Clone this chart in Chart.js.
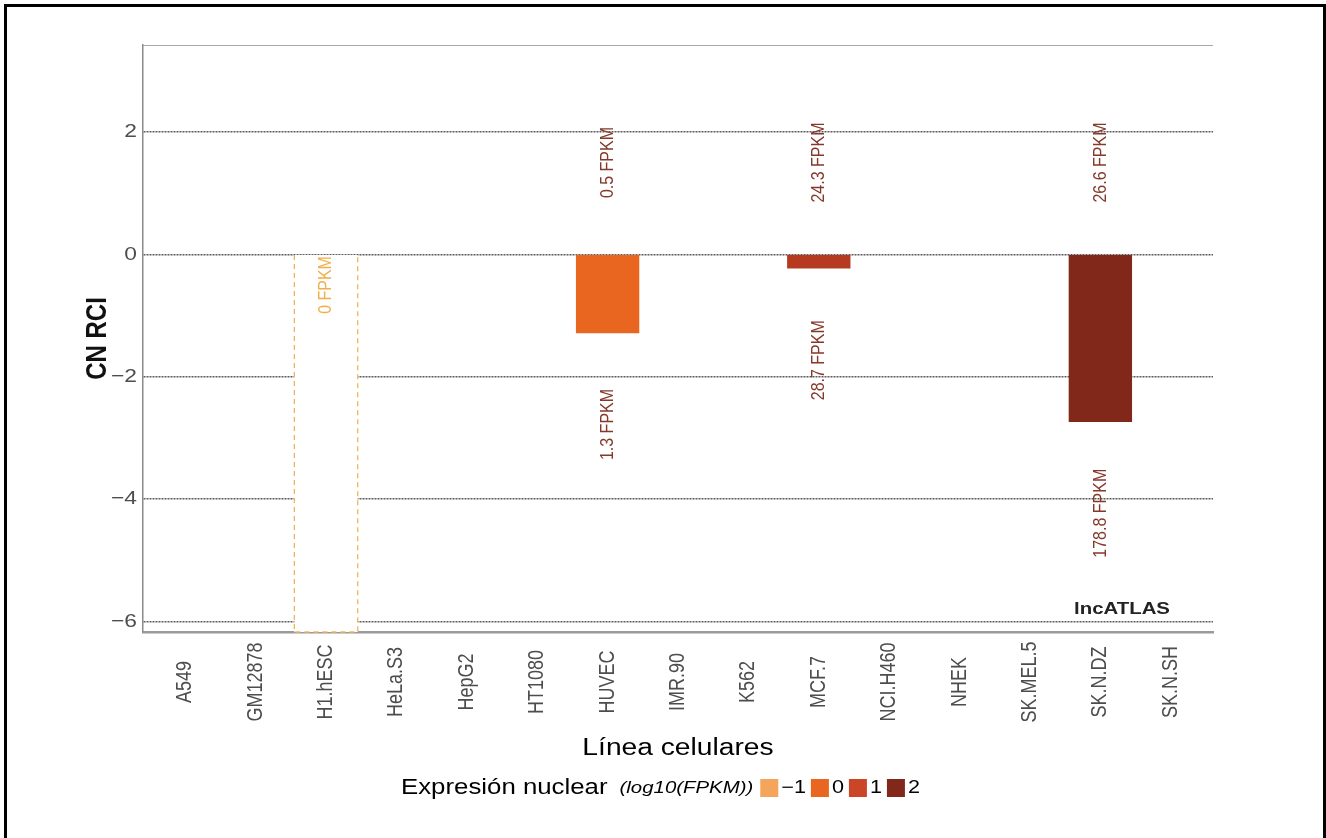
<!DOCTYPE html>
<html><head><meta charset="utf-8">
<script src="https://cdn.jsdelivr.net/npm/chart.js@4/dist/chart.umd.min.js"></script>
<style>html,body{margin:0;padding:0;background:#fff}canvas{display:block}</style>
</head><body>
<canvas id="c" width="1326" height="838"></canvas>
<script>
// ---- data ----
const categories = ['A549','GM12878','H1.hESC','HeLa.S3','HepG2','HT1080','HUVEC','IMR.90','K562','MCF.7','NCI.H460','NHEK','SK.MEL.5','SK.N.DZ','SK.N.SH'];
const cnRci = [null,null,-6.17,null,null,null,-1.29,null,null,-0.23,null,null,null,-2.74,null];
const topLabels = [null,null,null,null,null,null,'0.5 FPKM',null,null,'24.3 FPKM',null,null,null,'26.6 FPKM',null];
const topLabelY = [null,null,null,null,null,null,1.5,null,null,1.5,null,null,null,1.5,null];
const bottomLabels = [null,null,'0 FPKM',null,null,null,'1.3 FPKM',null,null,'28.7 FPKM',null,null,null,'178.8 FPKM',null];
const bottomLabelY = [null,null,-0.5,null,null,null,-2.78,null,null,-1.73,null,null,null,-4.23,null];
const yTicks = [-6,-4,-2,0,2];
const legendLevels = ['\u22121','0','1','2'];

// ---- styles ----
const FONT = '"Liberation Sans", Arial, Helvetica, sans-serif';
const barColors = ['#fff','#fff','#ffffff','#fff','#fff','#fff','#E8661F','#fff','#fff','#B53A1F','#fff','#fff','#fff','#81281A','#fff'];
const legendColors = ['#F5A45C','#E8661F','#CB4527','#81281A'];
const SX = 1.2; // horizontal stretch of the reference

function txt(ctx, s, x, y, font, color, align, rot, base) {
  ctx.save();
  ctx.translate(x, y);
  ctx.scale(SX, 1);
  if (rot) ctx.rotate(rot);
  ctx.font = font; ctx.fillStyle = color;
  ctx.textAlign = align || 'center';
  ctx.textBaseline = base || 'middle';
  ctx.fillText(s, 0, 0);
  ctx.restore();
}

const deco = {
  id: 'deco',
  beforeDraw(chart) {
    const ctx = chart.ctx;
    ctx.save();
    ctx.fillStyle = '#fff'; ctx.fillRect(0, 0, chart.width, chart.height);
    ctx.fillStyle = '#000';
    ctx.fillRect(4, 4, 1322, 3);
    ctx.fillRect(4, 4, 3, 834);
    ctx.fillRect(1323, 4, 3, 834);
    ctx.restore();
  },
  afterDatasetsDraw(chart) {
    const ctx = chart.ctx, xs = chart.scales.x, ys = chart.scales.y, ca = chart.chartArea;
    const meta = chart.getDatasetMeta(0);
    // top panel line
    ctx.save();
    ctx.strokeStyle = '#a8a8a8'; ctx.lineWidth = 1.2;
    ctx.beginPath(); ctx.moveTo(ca.left, ca.top + 0.5); ctx.lineTo(ca.right, ca.top + 0.5); ctx.stroke();
    // dashed outline for the H1.hESC bar
    const el = meta.data[2];
    if (el && cnRci[2] !== null) {
      const l = el.x - el.width / 2, r = el.x + el.width / 2;
      ctx.strokeStyle = '#F3B55A'; ctx.lineWidth = 1.3; ctx.setLineDash([5, 4]);
      ctx.beginPath();
      ctx.moveTo(l, el.base); ctx.lineTo(l, el.y); ctx.lineTo(r, el.y); ctx.lineTo(r, el.base);
      ctx.stroke();
    }
    ctx.restore();
    // value labels
    const lf = '16px ' + FONT;
    categories.forEach((c, i) => {
      const px = xs.getPixelForValue(i);
      if (topLabels[i]) txt(ctx, topLabels[i], px, ys.getPixelForValue(topLabelY[i]), lf, '#84392B', 'center', -Math.PI / 2);
      if (bottomLabels[i]) txt(ctx, bottomLabels[i], px, ys.getPixelForValue(bottomLabelY[i]), lf, i === 2 ? '#F0B04C' : '#84392B', 'center', -Math.PI / 2);
    });
  },
  afterDraw(chart) {
    const ctx = chart.ctx, xs = chart.scales.x, ys = chart.scales.y, ca = chart.chartArea;
    // y tick labels
    yTicks.forEach(v => {
      const s = v < 0 ? '\u2212' + Math.abs(v) : String(v);
      txt(ctx, s, ca.left - 6, ys.getPixelForValue(v), '19px ' + FONT, '#4D4D4D', 'right');
    });
    // x tick labels
    categories.forEach((c, i) => {
      txt(ctx, c, xs.getPixelForValue(i), 682, '18px ' + FONT, '#4D4D4D', 'center', -Math.PI / 2);
    });
    // axis titles
    txt(ctx, 'CN RCI', 98, (ca.top + ca.bottom) / 2, 'bold 24px ' + FONT, '#111', 'center', -Math.PI / 2);
    txt(ctx, 'Línea celulares', (ca.left + ca.right) / 2, 749, '23.5px ' + FONT, '#000', 'center');
    // watermark
    txt(ctx, 'lncATLAS', 1122, 609, 'bold 17px ' + FONT, '#222', 'center');
    // legend
    let x = 401; const ly = 788;
    ctx.save(); ctx.font = '21.5px ' + FONT;
    let w = ctx.measureText('Expresión nuclear').width * SX; ctx.restore();
    txt(ctx, 'Expresión nuclear', x, ly, '21.5px ' + FONT, '#000', 'left');
    x += w + 12;
    ctx.save(); ctx.font = 'italic 17px ' + FONT;
    w = ctx.measureText('(log10(FPKM))').width * SX; ctx.restore();
    txt(ctx, '(log10(FPKM))', x, ly, 'italic 17px ' + FONT, '#000', 'left');
    x += w + 7;
    legendLevels.forEach((lv, k) => {
      ctx.save(); ctx.fillStyle = legendColors[k]; ctx.fillRect(x, ly - 9, 18, 18); ctx.restore();
      x += 18 + 3;
      ctx.save(); ctx.font = '18px ' + FONT; const tw = ctx.measureText(lv).width * SX; ctx.restore();
      txt(ctx, lv, x, ly, '18px ' + FONT, '#000', 'left');
      x += tw + 5;
    });
  }
};

new Chart(document.getElementById('c'), {
  type: 'bar',
  data: {
    datasets: [{
      data: categories.map((c, i) => ({ x: i, y: cnRci[i] })),
      backgroundColor: barColors,
      borderWidth: 0,
      categoryPercentage: 1,
      barPercentage: 0.9
    }]
  },
  options: {
    responsive: false,
    animation: false,
    events: [],
    layout: { padding: { top: 45, right: 113, left: 0, bottom: 0 } },
    plugins: { legend: { display: false }, tooltip: { enabled: false } },
    scales: {
      x: {
        type: 'linear', min: -0.6, max: 14.6, offset: false,
        afterBuildTicks: s => { s.ticks = categories.map((c, i) => ({ value: i })); },
        afterFit: s => { s.height = 206; },
        grid: { display: false, drawTicks: false },
        ticks: { display: false },
        border: { display: true, color: '#9a9a9a', width: 2.5 }
      },
      y: {
        min: -6.17, max: 3.42,
        afterBuildTicks: s => { s.ticks = yTicks.map(v => ({ value: v })); },
        afterFit: s => { s.width = 143; },
        grid: { color: '#5a5a5a', lineWidth: 1.4, drawTicks: false },
        ticks: { display: false },
        border: { display: true, color: '#8a8a8a', width: 1.5, dash: [2, 1] }
      }
    }
  },
  plugins: [deco]
});
</script>
</body></html>
